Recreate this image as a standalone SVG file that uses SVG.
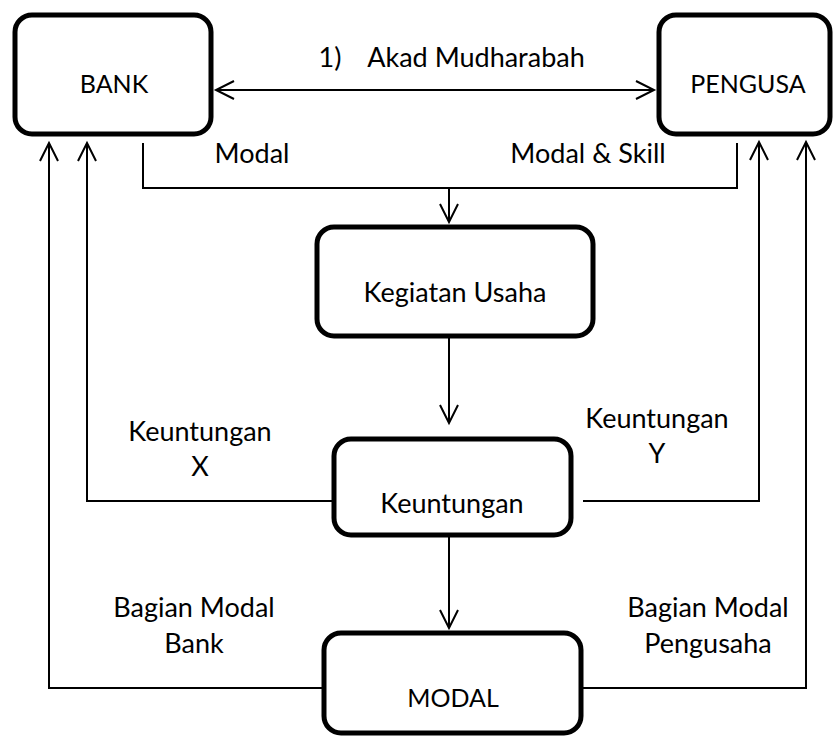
<svg xmlns="http://www.w3.org/2000/svg" width="835" height="738" viewBox="0 0 835 738">
  <style>
    .box { fill: #ffffff; stroke: #000000; stroke-width: 5; }
    .wire { fill: none; stroke: #000000; stroke-width: 2; }
    text { font-family: Lato, "Liberation Sans", sans-serif; font-size: 27px; fill: #000000; text-anchor: middle; }
    text.caps { font-size: 25px; }
  </style>
  <defs>
    <marker id="head" markerUnits="userSpaceOnUse" markerWidth="24" markerHeight="24" viewBox="-20 -12 24 24" refX="0" refY="0" orient="auto-start-reverse">
      <path d="M-18,-9 L0,0 L-18,9" fill="none" stroke="#000000" stroke-width="2"/>
    </marker>
  </defs>

  <rect width="835" height="738" fill="#ffffff"/>

  <!-- connectors -->
  <g id="connectors">
    <line class="wire" x1="216" y1="90" x2="654" y2="90" marker-start="url(#head)" marker-end="url(#head)"/>
    <polyline class="wire" points="143,143 143,188 737,188 737,143"/>
    <line class="wire" x1="449" y1="188" x2="449" y2="222" marker-end="url(#head)"/>
    <line class="wire" x1="449" y1="337" x2="449" y2="423" marker-end="url(#head)"/>
    <line class="wire" x1="449" y1="537" x2="449" y2="628" marker-end="url(#head)"/>
    <polyline class="wire" points="332,501 87,501 87,143" marker-end="url(#head)"/>
    <polyline class="wire" points="322,688 49,688 49,143" marker-end="url(#head)"/>
    <polyline class="wire" points="583,501 759,501 759,142" marker-end="url(#head)"/>
    <polyline class="wire" points="583,688 806,688 806,142" marker-end="url(#head)"/>
  </g>

  <!-- connector labels -->
  <g id="labels">
    <text x="330" y="67">1)</text>
    <text x="476" y="67">Akad Mudharabah</text>
    <text x="252" y="163">Modal</text>
    <text x="588" y="163">Modal &amp; Skill</text>
    <text x="200" y="441">Keuntungan</text>
    <text x="200" y="476">X</text>
    <text x="657" y="428">Keuntungan</text>
    <text x="657" y="463">Y</text>
    <text x="194" y="617">Bagian Modal</text>
    <text x="194" y="653">Bank</text>
    <text x="708" y="617">Bagian Modal</text>
    <text x="708" y="653">Pengusaha</text>
  </g>

  <!-- nodes -->
  <g id="bank">
    <rect class="box" x="15" y="15" width="196" height="119" rx="17"/>
    <text class="caps" x="114" y="93">BANK</text>
  </g>
  <g id="pengusa">
    <rect class="box" x="659" y="15" width="171" height="119" rx="17"/>
    <text class="caps" x="748" y="93">PENGUSA</text>
  </g>
  <g id="kegiatan-usaha">
    <rect class="box" x="317" y="227" width="276" height="109" rx="17"/>
    <text x="455" y="302">Kegiatan Usaha</text>
  </g>
  <g id="keuntungan">
    <rect class="box" x="334" y="439" width="237" height="96" rx="17"/>
    <text x="452" y="513">Keuntungan</text>
  </g>
  <g id="modal">
    <rect class="box" x="324" y="633" width="257" height="100" rx="17"/>
    <text class="caps" x="453" y="707">MODAL</text>
  </g>
</svg>
